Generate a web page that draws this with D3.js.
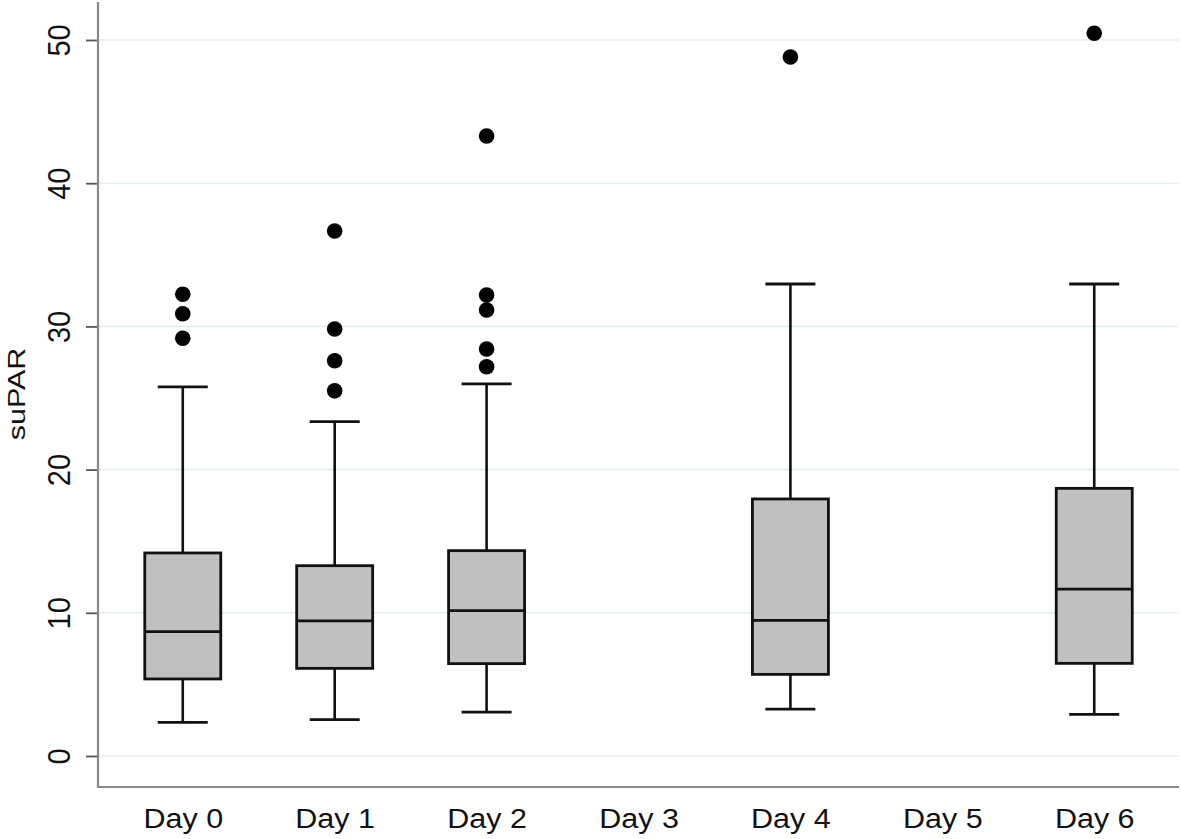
<!DOCTYPE html>
<html>
<head>
<meta charset="utf-8">
<script src="https://cdn.jsdelivr.net/npm/d3@7"></script>
<style>
  html, body { margin: 0; padding: 0; background: #fff; }
  svg { display: block; font-family: "Liberation Sans", Arial, sans-serif; }
</style>
</head>
<body>
<svg id="chart" width="1181" height="839"></svg>
<script>
// ---- Data ----
const categories = ["Day 0", "Day 1", "Day 2", "Day 3", "Day 4", "Day 5", "Day 6"];
const whiskerLow  = [2.35, 2.54, 3.07, null, 3.28, null, 2.91];
const q1          = [5.38, 6.12, 6.45, null, 5.70, null, 6.47];
const median      = [8.68, 9.43, 10.15, null, 9.47, null, 11.66];
const q3          = [14.18, 13.29, 14.34, null, 17.95, null, 18.69];
const whiskerHigh = [25.77, 23.35, 25.98, null, 32.96, null, 32.96];
const outliers    = [
  [29.17, 30.88, 32.24],
  [25.5, 27.6, 29.82, 36.66],
  [27.18, 28.42, 31.15, 32.19, 43.3],
  [],
  [48.81],
  [],
  [50.47]
];
const yTicks = [0, 10, 20, 30, 40, 50];
const yLabel = "suPAR";

// ---- Layout ----
const svg = d3.select("#chart");
const plotLeft = 98, plotRight = 1179, plotTop = 2, plotBottom = 787;

const x = d3.scalePoint().domain(categories).range([plotLeft, plotRight]).padding(0.558);
const y = d3.scaleLinear().domain([0, 50]).range([756, 40]);

const boxHalf = 38, capHalf = 25;

// gridlines
svg.append("g").selectAll("line").data(yTicks).join("line")
  .attr("x1", plotLeft).attr("x2", plotRight)
  .attr("y1", d => y(d)).attr("y2", d => y(d))
  .attr("stroke", "#e3eeee").attr("stroke-width", 1.6);

// boxes
const data = categories.map((c, i) => ({
  c, lo: whiskerLow[i], q1: q1[i], med: median[i], q3: q3[i], hi: whiskerHigh[i], out: outliers[i]
}));
const g = svg.append("g");
data.filter(d => d.med !== null).forEach(d => {
  const cx = x(d.c);
  g.append("line").attr("x1", cx).attr("x2", cx).attr("y1", y(d.q3)).attr("y2", y(d.hi))
    .attr("stroke", "#111").attr("stroke-width", 2.6);
  g.append("line").attr("x1", cx).attr("x2", cx).attr("y1", y(d.q1)).attr("y2", y(d.lo))
    .attr("stroke", "#111").attr("stroke-width", 2.6);
  g.append("line").attr("x1", cx - capHalf).attr("x2", cx + capHalf).attr("y1", y(d.hi)).attr("y2", y(d.hi))
    .attr("stroke", "#111").attr("stroke-width", 2.8);
  g.append("line").attr("x1", cx - capHalf).attr("x2", cx + capHalf).attr("y1", y(d.lo)).attr("y2", y(d.lo))
    .attr("stroke", "#111").attr("stroke-width", 2.8);
  g.append("rect").attr("x", cx - boxHalf).attr("width", boxHalf * 2)
    .attr("y", y(d.q3)).attr("height", y(d.q1) - y(d.q3))
    .attr("fill", "#c0c0c0").attr("stroke", "#111").attr("stroke-width", 2.8);
  g.append("line").attr("x1", cx - boxHalf).attr("x2", cx + boxHalf).attr("y1", y(d.med)).attr("y2", y(d.med))
    .attr("stroke", "#111").attr("stroke-width", 2.8);
  g.selectAll(null).data(d.out).join("circle")
    .attr("cx", cx).attr("cy", v => y(v)).attr("r", 7.8).attr("fill", "#000");
});

// y axis
const yAxis = svg.append("g").attr("transform", `translate(${plotLeft},0)`)
  .call(d3.axisLeft(y).tickValues(yTicks).tickSize(12).tickFormat(d3.format("d")));
yAxis.select(".domain").remove();
yAxis.selectAll(".tick line").attr("stroke", "#555").attr("stroke-width", 1.8);
yAxis.selectAll(".tick text")
  .attr("font-size", 29).attr("fill", "#111")
  .attr("text-anchor", "middle")
  .attr("x", null).attr("dy", null)
  .attr("transform", "translate(-28,0) rotate(-90) scale(1,1.1)");

// axis lines
svg.append("line").attr("x1", plotLeft).attr("x2", plotLeft).attr("y1", plotTop).attr("y2", plotBottom)
  .attr("stroke", "#888").attr("stroke-width", 2.2);
svg.append("line").attr("x1", plotLeft - 1).attr("x2", plotRight).attr("y1", plotBottom).attr("y2", plotBottom)
  .attr("stroke", "#888").attr("stroke-width", 2.2);

// x labels
const xAxis = svg.append("g").attr("transform", `translate(0,${plotBottom})`)
  .call(d3.axisBottom(x).tickSize(0));
xAxis.select(".domain").remove();
xAxis.selectAll(".tick text").attr("font-size", 28).attr("fill", "#111")
  .attr("dy", null).attr("y", 41).attr("transform", "scale(1.09,1)");

// y label
svg.append("text")
  .attr("transform", `translate(25,394) rotate(-90) scale(1.27,1)`)
  .attr("text-anchor", "middle").attr("font-size", 24).attr("fill", "#111")
  .text(yLabel);
</script>
</body>
</html>
